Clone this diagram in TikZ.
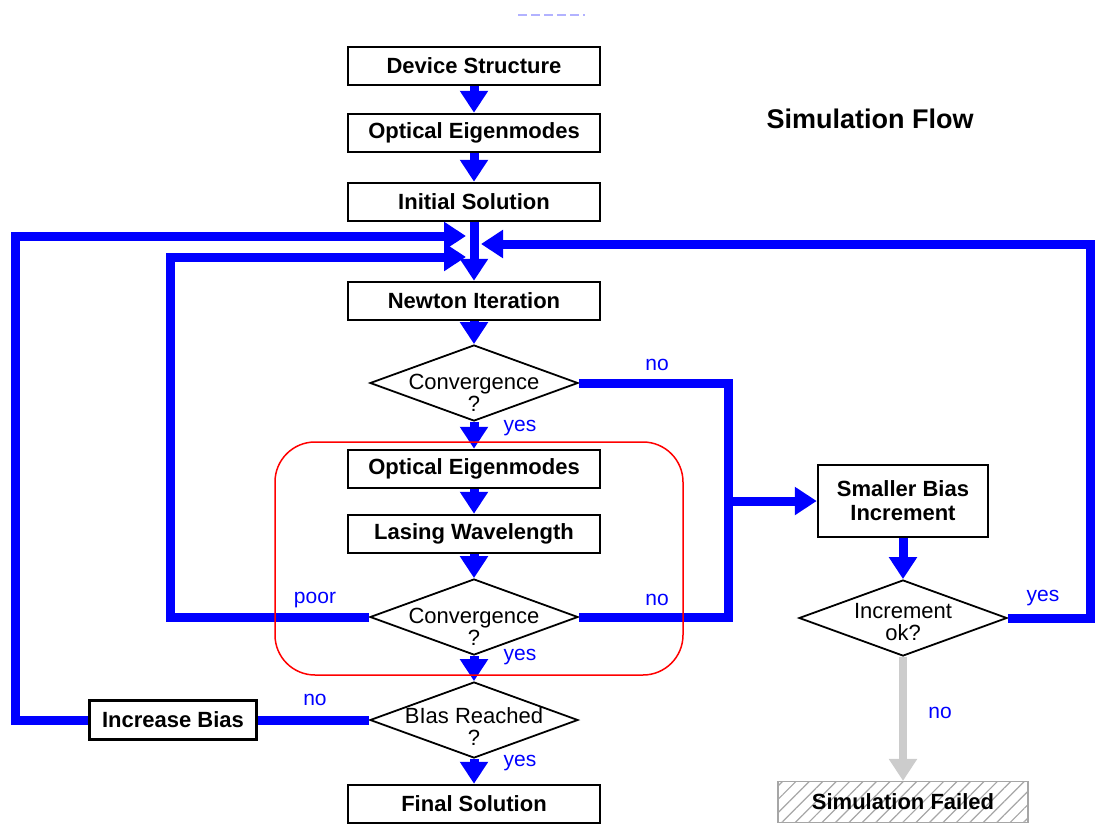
\documentclass[tikz,border=0pt]{standalone}
\usepackage{fontspec}
\setmainfont{Liberation Sans}
\usetikzlibrary{arrows.meta,positioning,shapes.geometric,patterns.meta}

\begin{document}
\begin{tikzpicture}%
  [x=1pt, y=-1pt,
   >={Triangle[length=22pt,width=27pt]},
   on grid,
   box/.style={draw, line width=2.5pt, minimum width=252pt, minimum height=38pt,
               inner sep=0pt, align=center, font=\bfseries\fontsize{22}{24}\selectfont},
   decision/.style={diamond, draw, line width=1.8pt, minimum width=208pt,
                    minimum height=76pt, inner sep=0pt},
   asks/.style={align=center, font=\fontsize{22}{22}\selectfont},
   flow/.style={draw=blue, line width=9pt},
   failflow/.style={draw=black!20, line width=8pt},
   answer/.style={text=blue, font=\fontsize{21}{23}\selectfont},
   failed/.style={draw=black!35, line width=1.5pt, minimum width=250pt, minimum height=41pt,
                  inner sep=0pt, font=\bfseries\fontsize{22}{24}\selectfont,
                  pattern={Lines[angle=45,distance=9.5pt,line width=1.2pt]}, pattern color=black!35}
  ]
\useasboundingbox (0,0) rectangle (1095,825);

% main column
\node[box]      (ds) at (474,66)           {Device Structure};
\node[box]      (oe1) [below=67pt of ds]   {Optical Eigenmodes};
\node[box]      (is)  [below=69pt of oe1]  {Initial Solution};
\node[box]      (nw)  [below=99pt of is]   {Newton Iteration};
\node[decision] (c1)  [below=82pt of nw,
                       label={[asks,yshift=-10pt]center:Convergence\\?}] {};
\node[box]      (oe2) [below=86pt of c1]   {Optical Eigenmodes};
\node[box]      (lw)  [below=65pt of oe2]  {Lasing Wavelength};
\node[decision] (c2)  [below=83pt of lw,
                       label={[asks,yshift=-10pt]center:Convergence\\?}] {};
\node[decision] (br)  [below=103pt of c2,
                       label={[asks,yshift=-7pt]center:BIas Reached\\?}] {};
\node[box]      (fs)  [below=84pt of br]   {Final Solution};

% side column
\node[box, minimum width=167pt, minimum height=39pt] (ib) [left=301pt of br] {Increase Bias};
\node[box, minimum width=170pt, minimum height=72pt] (sbi) at (903,501) {Smaller Bias\\Increment};
\node[decision] (iok) [below=117pt of sbi,
                       label={[asks,yshift=-4pt]center:Increment\\ok?}] {};
\node[failed]   (sf) at (903,802) {Simulation Failed};

\node[font=\bfseries\fontsize{27}{30}\selectfont] (title) at (870,119) {Simulation Flow};

% where the loops come back in
\coordinate (inA)   at (466,236);
\coordinate (inB)   at (466,257);
\coordinate (inR)   at (481,244);
\coordinate (outer) at (15,236);
\coordinate (inner) at (170,257);
\coordinate (back)  at (1090,244);
\coordinate (nocol) at (728,617);

\draw[flow] (c1.east) -| (nocol) -- (c2.east);
\draw[flow,->] (c2.west) -| (inner) -- (inB);
\draw[flow] (br.west) -- (ib.east);
\draw[flow,->] (ib.west) -| (outer) -- (inA);
\draw[flow,->] (iok.east) -| (back) -- (inR);

\path[every edge/.style={draw, flow, ->}]
%   FROM       EDGE      TO
   (ds)        edge      (oe1)
   (oe1)       edge      (is)
   (is)        edge      (nw)
   (nw)        edge      (c1)
   (c1)        edge      (oe2)
   (oe2)       edge      (lw)
   (lw)        edge      (c2)
   (c2)        edge      (br)
   (br)        edge      (fs)
   (sbi)       edge      (iok)
   (nocol |- sbi.west) edge (sbi.west)
   ;
\draw[failflow,->] (iok) -- (sf);

\draw[red, line width=1.5pt, rounded corners=40pt] (275,442) rectangle (683,675);
\draw[blue!30, line width=2pt, dash pattern=on 9pt off 4pt] (518,15) -- (585,15);

% branch labels
\node[answer] (no1)   at (657,365) {no};
\node[answer] (yes1)  at (520,428) {yes};
\node[answer] (poor)  at (315,600) {poor};
\node[answer] (no2)   at (657,600) {no};
\node[answer] (yes2)  at (520,657) {yes};
\node[answer] (no3)   at (315,700) {no};
\node[answer] (yes3)  at (520,763) {yes};
\node[answer] (yes4)  at (1043,598) {yes};
\node[answer] (no4)   at (940,713) {no};
\end{tikzpicture}
\end{document}
